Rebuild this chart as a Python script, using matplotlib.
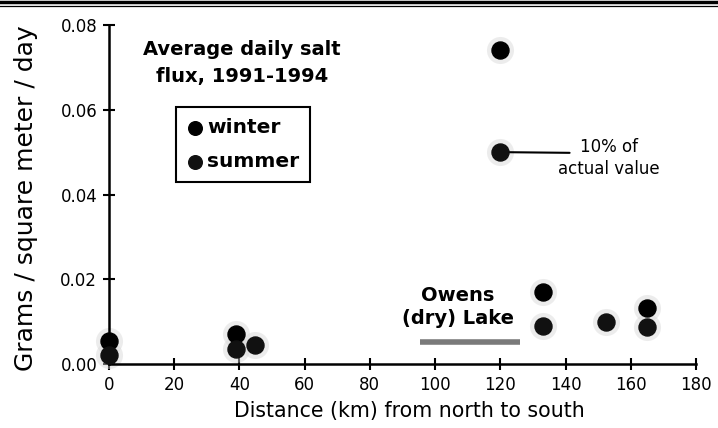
import matplotlib
matplotlib.use("Agg")
import matplotlib.pyplot as plt
from matplotlib.lines import Line2D
from matplotlib.ticker import FormatStrFormatter

# Readings (km north->south, g / m^2 / day)
winter_km = [0, 39.0, 120, 133, 165]
winter_flux = [0.0054, 0.0071, 0.0741, 0.0170, 0.0132]
summer_km = [0, 39.0, 44.8, 120, 133, 152.5, 165]
summer_flux = [0.0021, 0.0035, 0.0045, 0.0500, 0.0090, 0.0099, 0.0087]
lake_km = [95.5, 126]          # extent of Owens (dry) Lake
lake_level = 0.0052
x_ticks = [0, 20, 40, 60, 80, 100, 120, 140, 160, 180]
y_ticks = [0.00, 0.02, 0.04, 0.06, 0.08]

plt.rcParams.update({
    "font.family": "DejaVu Sans",
    "font.size": 12,
})

fig = plt.figure(figsize=(7.18, 4.28), dpi=100)
ax = fig.add_axes([0.1518, 0.1495, 0.8175, 0.7921])

# faint grey halo behind each dot (scan look)
for km, fl in ((winter_km, winter_flux), (summer_km, summer_flux)):
    ax.scatter(km, fl, s=380, color="#d6d6d6", alpha=0.45, linewidths=0,
               clip_on=False, zorder=2)
ax.scatter(winter_km, winter_flux, s=150, color="#000000", label="winter",
           clip_on=False, zorder=4)
ax.scatter(summer_km, summer_flux, s=150, color="#111111", label="summer",
           clip_on=False, zorder=4)

ax.hlines(lake_level, lake_km[0], lake_km[1], color="#7a7a7a", linewidth=4,
          zorder=3)

ax.set_xlim(0, 180)
ax.set_ylim(0, 0.08)
ax.set_xticks(x_ticks)
ax.set_yticks(y_ticks)
ax.yaxis.set_major_formatter(FormatStrFormatter("%.2f"))
ax.tick_params(direction="inout", length=9, width=1.5, labelsize=12,
               pad=4)
for side in ("top", "right"):
    ax.spines[side].set_visible(False)
for side in ("left", "bottom"):
    ax.spines[side].set_linewidth(1.8)

ax.set_xlabel("Distance (km) from north to south", fontsize=14.8)
ax.set_ylabel("Grams / square meter / day", fontsize=18)
ax.xaxis.set_label_coords(0.511, -0.11)
ax.yaxis.set_label_coords(-0.121, 0.49)

ax.text(40.8, 0.0710, "Average daily salt\nflux, 1991-1994",
        ha="center", va="center", fontsize=14, fontweight="bold",
        linespacing=1.5)

leg = ax.legend(loc="upper left", bbox_to_anchor=(176 / 718, 1 - 107 / 428),
                bbox_transform=fig.transFigure, borderaxespad=0,
                frameon=True, fancybox=False,
                edgecolor="black", framealpha=1, handletextpad=0.2,
                borderpad=0.55, labelspacing=0.75, handlelength=0.8,
                prop={"weight": "bold", "size": 14.5}, markerscale=0.8)
leg.get_frame().set_linewidth(1.5)

ax.annotate("10% of\nactual value", xy=(120, 0.0500),
            xytext=(153.4, 0.0486), ha="center", va="center", fontsize=12,
            linespacing=1.3,
            arrowprops=dict(arrowstyle="-", color="black", lw=1.5,
                            patchA=None, relpos=(0.11, 0.63),
                            shrinkA=0, shrinkB=0))

ax.text(107, 0.0134, "Owens\n(dry) Lake", ha="center", va="center",
        fontsize=14, fontweight="bold", linespacing=1.3)

# double rule across the top of the scan
fig.add_artist(Line2D([0, 1], [1 - 1.5 / 428, 1 - 1.5 / 428],
                      transform=fig.transFigure, color="black", lw=2.5))
fig.add_artist(Line2D([0, 1], [1 - 5.5 / 428, 1 - 5.5 / 428],
                      transform=fig.transFigure, color="black", lw=0.9))

fig.savefig("out.png", dpi=100)
